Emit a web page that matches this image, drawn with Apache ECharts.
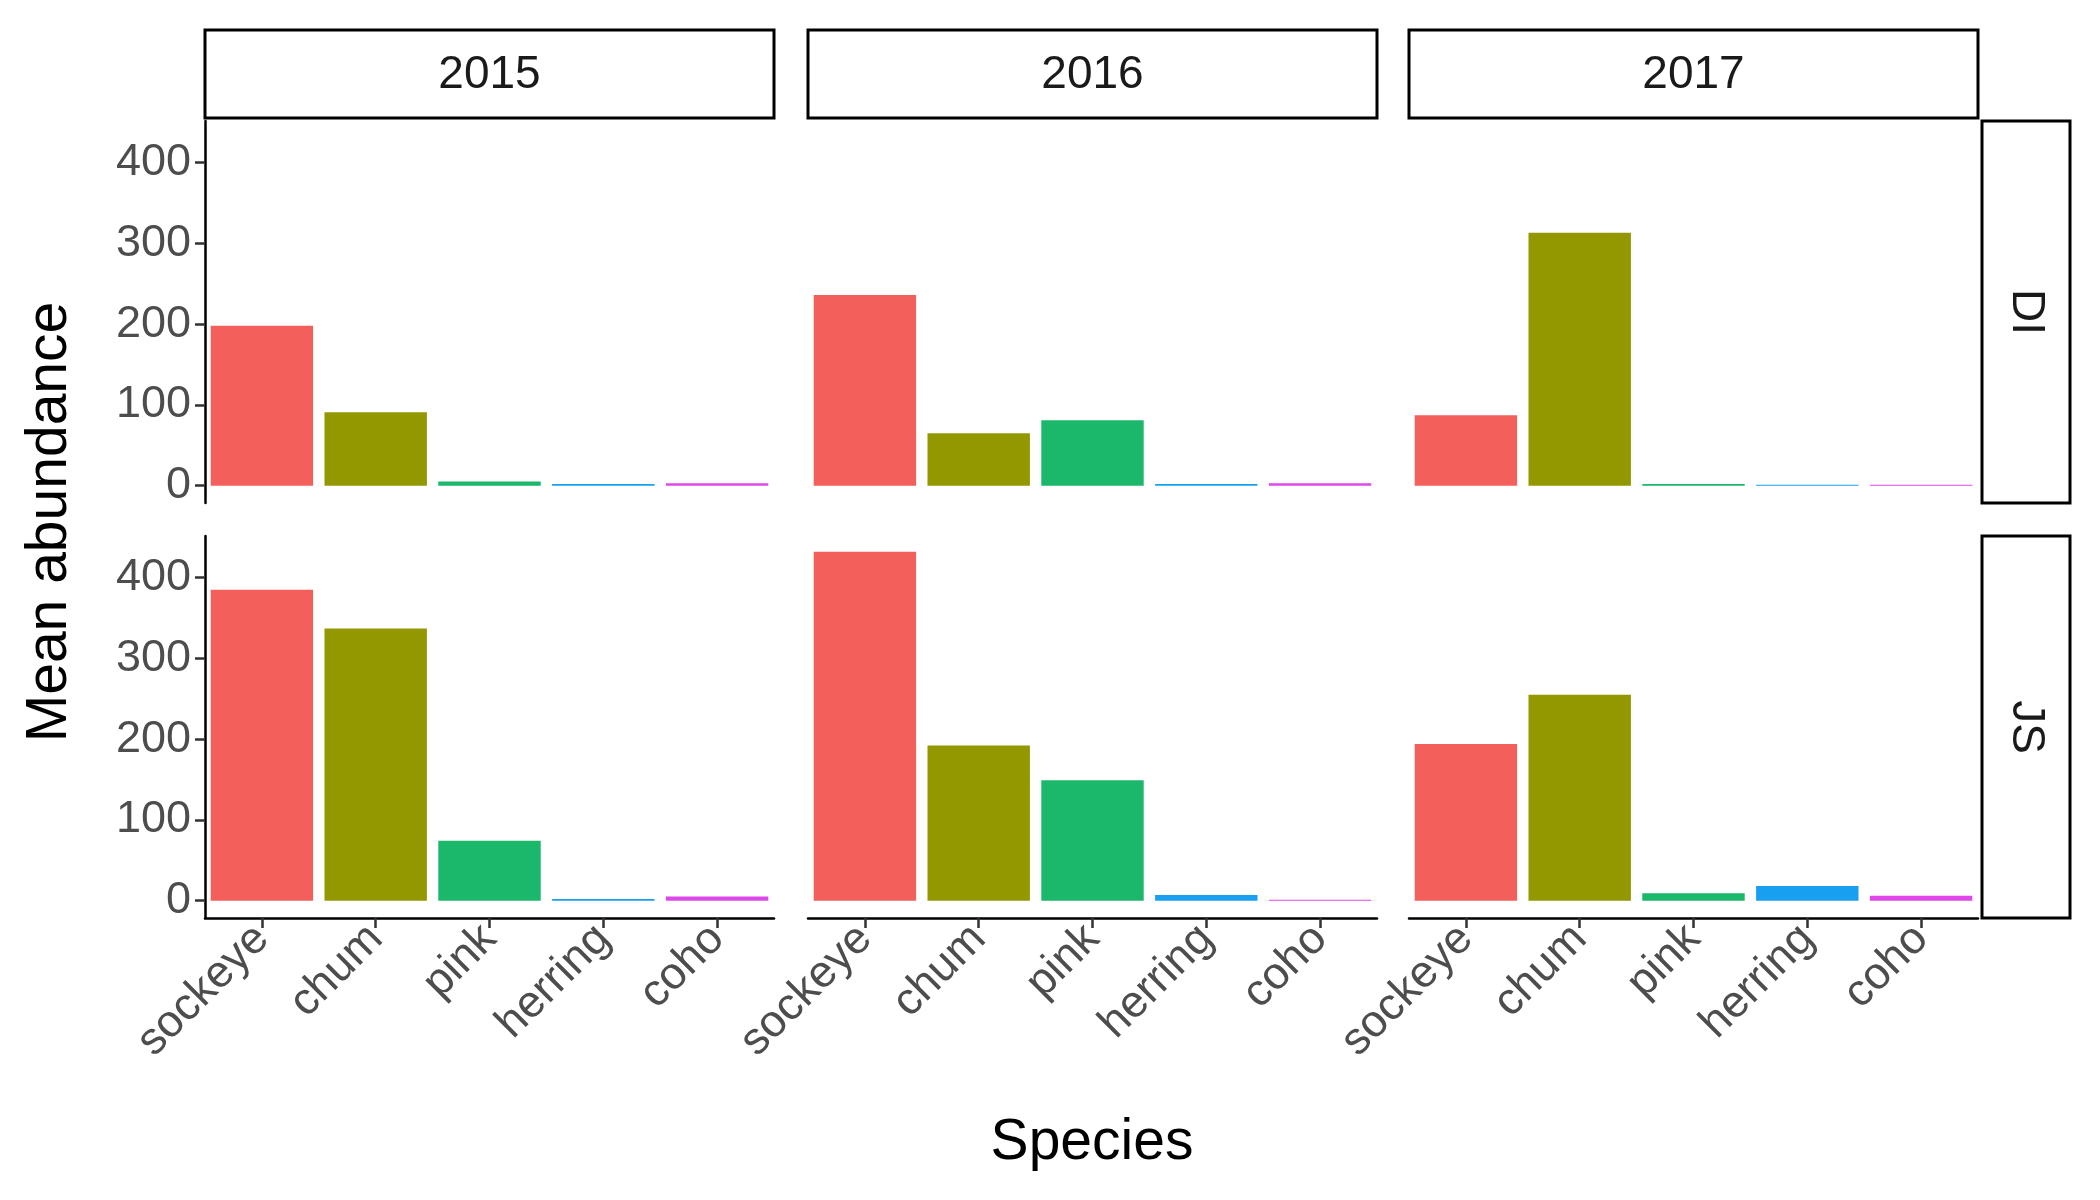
<!DOCTYPE html>
<html>
<head>
<meta charset="utf-8">
<script src="https://cdn.jsdelivr.net/npm/echarts@6/dist/echarts.min.js"></script>
<style>html,body{margin:0;padding:0;background:#fff}#chart{width:2100px;height:1200px}</style>
</head>
<body>
<div id="chart"></div>
<script>
var species = ["sockeye", "chum", "pink", "herring", "coho"];
var years = ["2015", "2016", "2017"];
var sites = ["DI", "JS"];
var colors = ["#F35F5A", "#939800", "#1BB76B", "#189FEF", "#DE47E8"];
var di2015 = [198, 91, 5, 2, 3];
var di2016 = [236, 65, 81, 2, 3];
var di2017 = [87, 313, 2, 1, 1];
var js2015 = [385, 337, 74, 2, 5];
var js2016 = [432, 192, 149, 7, 1];
var js2017 = [194, 255, 9, 18, 6];
var yTicks = [0, 100, 200, 300, 400];
var values = [[di2015, di2016, di2017], [js2015, js2016, js2017]];

var colLeft = [205, 808, 1409];
var colW = 569;
var rowTop = [121, 536];
var rowH = 382;
var font = "Liberation Sans";

var grids = [], xAxes = [], yAxes = [], series = [], graphics = [];
var idx = 0;
for (var r = 0; r < 2; r++) {
    for (var c = 0; c < 3; c++) {
        grids.push({left: colLeft[c], top: rowTop[r], width: colW, height: rowH});
        xAxes.push({
            type: "category", gridIndex: idx, data: species,
            axisLine: {show: r == 1, onZero: false, lineStyle: {color: "#000", width: 2.5}},
            axisTick: {show: r == 1, alignWithLabel: true, length: 10, lineStyle: {color: "#333", width: 2.5}},
            axisLabel: {show: r == 1, rotate: 45, margin: 14, color: "#4D4D4D", fontSize: 45, fontFamily: font}
        });
        yAxes.push({
            type: "value", gridIndex: idx, min: -21.5, max: 451.5, splitLine: {show: false},
            axisLine: {show: c == 0, lineStyle: {color: "#000", width: 2.5}},
            axisTick: {show: c == 0, length: 10, customValues: yTicks, lineStyle: {color: "#333", width: 2.5}},
            axisLabel: {show: c == 0, customValues: yTicks, margin: 14, color: "#4D4D4D", fontSize: 45, fontFamily: font}
        });
        series.push({
            type: "bar", xAxisIndex: idx, yAxisIndex: idx, barCategoryGap: "10%",
            data: values[r][c].map(function (v, i) { return {value: v, itemStyle: {color: colors[i]}}; })
        });
        idx++;
    }
}
years.forEach(function (y, c) {
    graphics.push({type: "rect", shape: {x: colLeft[c], y: 30, width: colW, height: 88},
        style: {fill: "#fff", stroke: "#000", lineWidth: 3}});
    graphics.push({type: "text", x: colLeft[c] + colW / 2, y: 75,
        style: {text: y, fill: "#1A1A1A", fontSize: 46, fontFamily: font, align: "center", verticalAlign: "middle"}});
});
sites.forEach(function (s, r) {
    graphics.push({type: "rect", shape: {x: 1982, y: rowTop[r], width: 88, height: rowH},
        style: {fill: "#fff", stroke: "#000", lineWidth: 3}});
    graphics.push({type: "text", x: 2026, y: rowTop[r] + rowH / 2, rotation: -Math.PI / 2,
        style: {text: s, fill: "#1A1A1A", fontSize: 46, fontFamily: font, align: "center", verticalAlign: "middle"}});
});
graphics.push({type: "text", x: 1092, y: 1143,
    style: {text: "Species", fill: "#000", fontSize: 57, fontFamily: font, align: "center", verticalAlign: "middle"}});
graphics.push({type: "text", x: 50, y: 522, rotation: Math.PI / 2,
    style: {text: "Mean abundance", fill: "#000", fontSize: 57, fontFamily: font, align: "center", verticalAlign: "middle"}});

var chart = echarts.init(document.getElementById("chart"));
chart.setOption({
    animation: false,
    grid: grids, xAxis: xAxes, yAxis: yAxes, series: series, graphic: graphics
});
</script>
</body>
</html>
